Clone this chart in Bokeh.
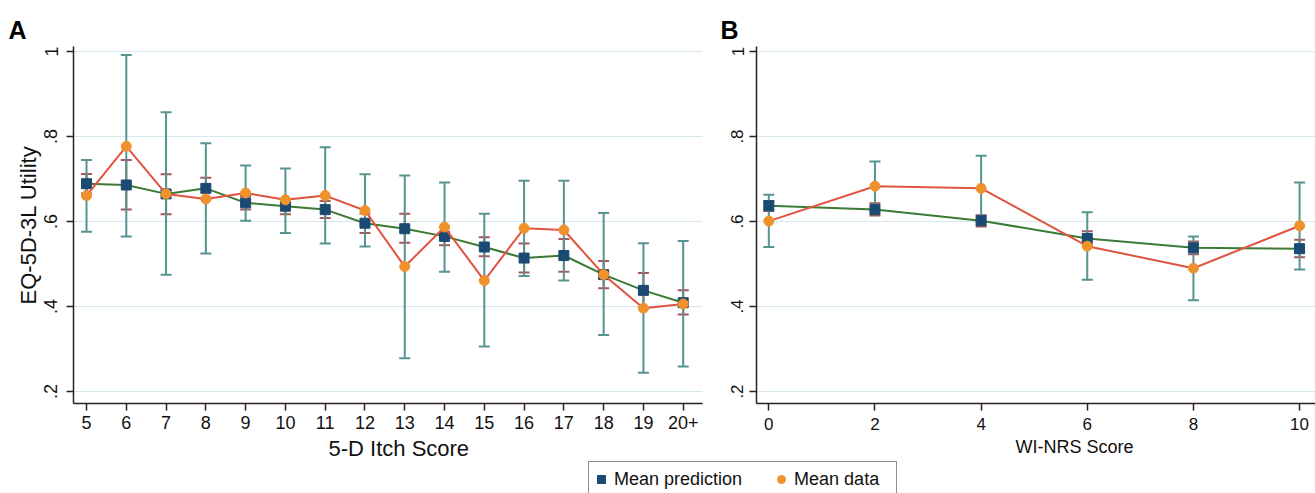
from bokeh.plotting import figure
from bokeh.models import (ColumnDataSource, FixedTicker, Range1d, Whisker, TeeHead,
                          Label, Legend, LegendItem)
from bokeh.layouts import row, column
from bokeh.embed import file_html
from bokeh.resources import INLINE

# ---------------- data ----------------
# Panel A: 5-D Itch Score
itch_scores = [5, 6, 7, 8, 9, 10, 11, 12, 13, 14, 15, 16, 17, 18, 19, 20]
itch_labels = ["5", "6", "7", "8", "9", "10", "11", "12", "13", "14", "15",
               "16", "17", "18", "19", "20+"]
pred_a = [0.689, 0.686, 0.665, 0.678, 0.644, 0.636, 0.628, 0.596, 0.583, 0.565,
          0.540, 0.514, 0.520, 0.475, 0.438, 0.409]
pred_lo_a = [0.666, 0.628, 0.617, 0.653, 0.628, 0.617, 0.608, 0.573, 0.550, 0.544,
             0.518, 0.480, 0.482, 0.443, 0.397, 0.381]
pred_hi_a = [0.712, 0.745, 0.711, 0.703, 0.660, 0.652, 0.648, 0.619, 0.618, 0.586,
             0.563, 0.548, 0.559, 0.507, 0.479, 0.438]
data_a = [0.661, 0.777, 0.665, 0.653, 0.667, 0.651, 0.661, 0.626, 0.494, 0.587,
          0.461, 0.584, 0.580, 0.475, 0.396, 0.406]
data_lo_a = [0.576, 0.565, 0.475, 0.525, 0.602, 0.573, 0.548, 0.541, 0.278, 0.482,
             0.306, 0.472, 0.461, 0.333, 0.244, 0.259]
data_hi_a = [0.745, 0.992, 0.857, 0.784, 0.732, 0.725, 0.775, 0.711, 0.708, 0.692,
             0.618, 0.696, 0.696, 0.620, 0.549, 0.554]

# Panel B: WI-NRS Score
nrs_scores = [0, 2, 4, 6, 8, 10]
nrs_labels = ["0", "2", "4", "6", "8", "10"]
pred_b = [0.637, 0.628, 0.602, 0.560, 0.538, 0.536]
pred_lo_b = [0.625, 0.614, 0.588, 0.545, 0.523, 0.516]
pred_hi_b = [0.648, 0.643, 0.615, 0.577, 0.553, 0.557]
data_b = [0.601, 0.683, 0.678, 0.542, 0.490, 0.590]
data_lo_b = [0.540, 0.625, 0.601, 0.463, 0.415, 0.487]
data_hi_b = [0.663, 0.741, 0.755, 0.622, 0.565, 0.692]

y_ticks = [0.2, 0.4, 0.6, 0.8, 1.0]
y_tick_labels = [".2", ".4", ".6", ".8", "1"]

panel_letters = ["A", "B"]
x_titles = ["5-D Itch Score", "WI-NRS Score"]
y_title = "EQ-5D-3L Utility"
series_names = ["Mean prediction", "Mean data"]

# ---------------- style ----------------
FONT = "Liberation Sans"
NAVY = "#1a4a72"
ORANGE = "#f0922b"
GREEN = "#3b7a35"
RED = "#e0533f"
TEAL = "#56948f"
BROWN = "#a8575a"
GRID = "#d5e8ef"
AXIS = "#2b1f1f"
TXT = "#111111"


def strip(width, height):
    s = figure(width=width, height=height, x_range=Range1d(0, width),
               y_range=Range1d(0, height), toolbar_location=None,
               output_backend="svg", min_border=0,
               x_axis_location=None, y_axis_location=None)
    s.outline_line_color = None
    s.grid.visible = False
    return s


def make_panel(xs, xlabels, pred, plo, phi, dat, dlo, dhi, x_range, width,
               border_left, border_right, tick_font, x_standoff, y_standoff,
               ylabel):
    p = figure(width=width, height=387, x_range=Range1d(*x_range),
               y_range=Range1d(0.1718, 1.0118), toolbar_location=None,
               output_backend="svg", min_border_left=border_left,
               min_border_right=border_right,
               min_border_top=0, min_border_bottom=30)
    p.outline_line_color = None
    p.background_fill_color = "white"
    p.border_fill_color = "white"

    src = ColumnDataSource(dict(x=xs, pred=pred, plo=plo, phi=phi,
                                dat=dat, dlo=dlo, dhi=dhi))
    p.line("x", "pred", source=src, line_color=GREEN, line_width=2)
    p.scatter("x", "pred", source=src, marker="square", size=10,
              fill_color=NAVY, line_color=NAVY)
    p.line("x", "dat", source=src, line_color=RED, line_width=2)
    p.scatter("x", "dat", source=src, marker="circle", size=10,
              fill_color=ORANGE, line_color=ORANGE)

    for lo, hi, col in (("plo", "phi", BROWN), ("dlo", "dhi", TEAL)):
        w = Whisker(base="x", lower=lo, upper=hi, source=src,
                    line_color=col, line_width=2,
                    lower_head=TeeHead(size=11, line_color=col, line_width=2),
                    upper_head=TeeHead(size=11, line_color=col, line_width=2))
        p.add_layout(w)

    p.xaxis.ticker = FixedTicker(ticks=xs)
    p.xaxis.major_label_overrides = {x: l for x, l in zip(xs, xlabels)}
    p.yaxis.ticker = FixedTicker(ticks=y_ticks)
    p.yaxis.major_label_overrides = {t: l for t, l in zip(y_ticks, y_tick_labels)}
    p.yaxis.major_label_orientation = "vertical"
    for ax in (p.xaxis, p.yaxis):
        ax.axis_line_color = AXIS
        ax.axis_line_width = 1.5
        ax.major_tick_line_color = AXIS
        ax.major_tick_line_width = 1.5
        ax.major_tick_out = 7
        ax.major_tick_in = 0
        ax.minor_tick_line_color = None
        ax.major_label_text_font = FONT
        ax.major_label_text_font_size = tick_font
        ax.major_label_text_color = TXT
        ax.axis_label_text_font = FONT
        ax.axis_label_text_font_style = "normal"
        ax.axis_label_text_color = TXT
    p.xaxis.major_label_standoff = x_standoff
    p.yaxis.major_label_standoff = y_standoff
    if ylabel:
        p.yaxis.axis_label = ylabel
        p.yaxis.axis_label_text_font_size = "22px"
        p.yaxis.axis_label_standoff = 1

    p.xgrid.grid_line_color = None
    p.ygrid.ticker = FixedTicker(ticks=y_ticks)
    p.ygrid.grid_line_color = GRID
    p.ygrid.grid_line_width = 1.2
    return p


# Panel A: frame 73..702 px ; Panel B: frame 756..1315 px
pA = make_panel(itch_scores, itch_labels, pred_a, pred_lo_a, pred_hi_a,
                data_a, data_lo_a, data_hi_a, (4.673, 20.485), 712, 73, 10,
                "18px", 5, 9, y_title)
pB = make_panel(nrs_scores, nrs_labels, pred_b, pred_lo_b, pred_hi_b,
                data_b, data_lo_b, data_hi_b, (-0.232, 10.30), 603, 44, 0,
                "17px", 7, 6, None)

# header with panel letters
header = strip(1315, 46)
for letter, lx in zip(panel_letters, [8, 720]):
    header.add_layout(Label(x=lx, y=17, text=letter, text_font=FONT,
                            text_font_size="25px", text_font_style="bold",
                            text_baseline="middle", text_color="#000000"))

# footer with x-axis titles and legend
footer = strip(1315, 60)
footer.add_layout(Label(x=328, y=45.5, text=x_titles[0], text_font=FONT,
                        text_font_size="22px", text_baseline="middle",
                        text_color=TXT))
footer.add_layout(Label(x=1015, y=46.5, text=x_titles[1], text_font=FONT,
                        text_font_size="18px", text_baseline="middle",
                        text_color=TXT))
r1 = footer.scatter(x=[-100], y=[-100], marker="square", fill_color=NAVY,
                    line_color=NAVY)
r2 = footer.scatter(x=[-100], y=[-100], marker="circle", fill_color=ORANGE,
                    line_color=ORANGE)
legend = Legend(items=[LegendItem(label=series_names[0], renderers=[r1]),
                       LegendItem(label=series_names[1], renderers=[r2])],
                orientation="horizontal", location=(588, -4),
                glyph_width=20, glyph_height=30, padding=2, spacing=29,
                label_standoff=3, label_width=100,
                label_text_font=FONT, label_text_font_size="18px",
                label_text_color=TXT,
                border_line_color="#222222", border_line_width=1.5,
                background_fill_color="white", margin=0)
footer.add_layout(legend)

layout = column(header, row(pA, pB), footer)
open("out.html", "w").write(file_html(layout, INLINE))
